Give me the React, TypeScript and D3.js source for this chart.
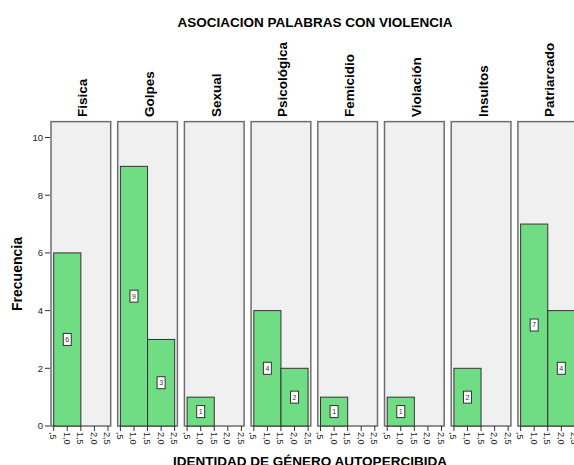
import React from "react";
import * as d3 from "d3";

const palabras = ["Fisica", "Golpes", "Sexual", "Psicológica", "Femicidio", "Violación", "Insultos", "Patriarcado"];
// frecuencia por identidad de género (1 y 2)
const genero1 = [6, 9, 1, 4, 1, 1, 2, 7];
const genero2 = [0, 3, 0, 2, 0, 0, 0, 4];
const yTicks = [0, 2, 4, 6, 8, 10];
const xTicks = [0.5, 1, 1.5, 2, 2.5];

const W = 574;
const H = 465;
const font = "Liberation Sans, Arial, sans-serif";

const fmt = (v: number) => (v === 0.5 ? ",5" : v.toFixed(1).replace(".", ","));

export default function App() {
  const panel = d3.scaleBand<string>().domain(palabras).range([51, 577.6]).paddingInner(0.105).paddingOuter(0);
  const bw = panel.bandwidth();
  const y = d3.scaleLinear().domain([0, 10]).range([426, 137.5]);
  const x = d3.scaleLinear().domain([0.4, 2.6]).range([0, bw]);
  const top = y(10.55);

  return (
    <svg width={W} height={H} style={{ position: "absolute", left: 0, top: 0, background: "#fff" }} fontFamily={font}>
      <text x={315} y={27} textAnchor="middle" fontSize={13.5} fontWeight="bold">ASOCIACION PALABRAS CON VIOLENCIA</text>

      {/* eje y */}
      {yTicks.map(t => (
        <g key={t}>
          <line x1={45} x2={50} y1={y(t)} y2={y(t)} stroke="#333" />
          <text x={43} y={y(t)} dy="0.35em" textAnchor="end" fontSize={9.5} fill="#222">{t}</text>
        </g>
      ))}
      <text transform={`translate(22,274) rotate(-90)`} textAnchor="middle" fontSize={14} fontWeight="bold">Frecuencia</text>

      {palabras.map((p, i) => {
        const x0 = panel(p)!;
        const vals = [genero1[i], genero2[i]];
        return (
          <g key={p} transform={`translate(${x0},0)`}>
            <text transform={`translate(${bw / 2 + 6.5},117) rotate(-90)`} fontSize={13.5} fontWeight="bold">{p}</text>
            <rect x={0} y={top} width={bw} height={y(0) - top} fill="#f0f0f0" stroke="#6e6e6e" strokeWidth={1.5} />
            {vals.map((v, k) => v > 0 && (
              <rect key={k} x={x(k + 0.5)} y={y(v)} width={x(k + 1.5) - x(k + 0.5)} height={y(0) - y(v)}
                fill="#70dc84" stroke="#333" strokeWidth={1} />
            ))}
            {vals.map((v, k) => v > 0 && (
              <g key={"l" + k} transform={`translate(${x(k + 1)},${y(v / 2)})`}>
                <rect x={-4} y={-6} width={8} height={12} fill="#fff" stroke="#333" strokeWidth={1} />
                <text y={0} dy="0.35em" textAnchor="middle" fontSize={7} fill="#333">{v}</text>
              </g>
            ))}
            {xTicks.map(t => (
              <g key={t} transform={`translate(${x(t)},${y(0)})`}>
                <line y1={0} y2={5} stroke="#333" />
                <text transform="translate(-3.5,6) rotate(90)" fontSize={9} fill="#222">{fmt(t)}</text>
              </g>
            ))}
          </g>
        );
      })}

      <text x={310} y={466} textAnchor="middle" fontSize={13.5} fontWeight="bold">IDENTIDAD DE GÉNERO AUTOPERCIBIDA</text>
    </svg>
  );
}
